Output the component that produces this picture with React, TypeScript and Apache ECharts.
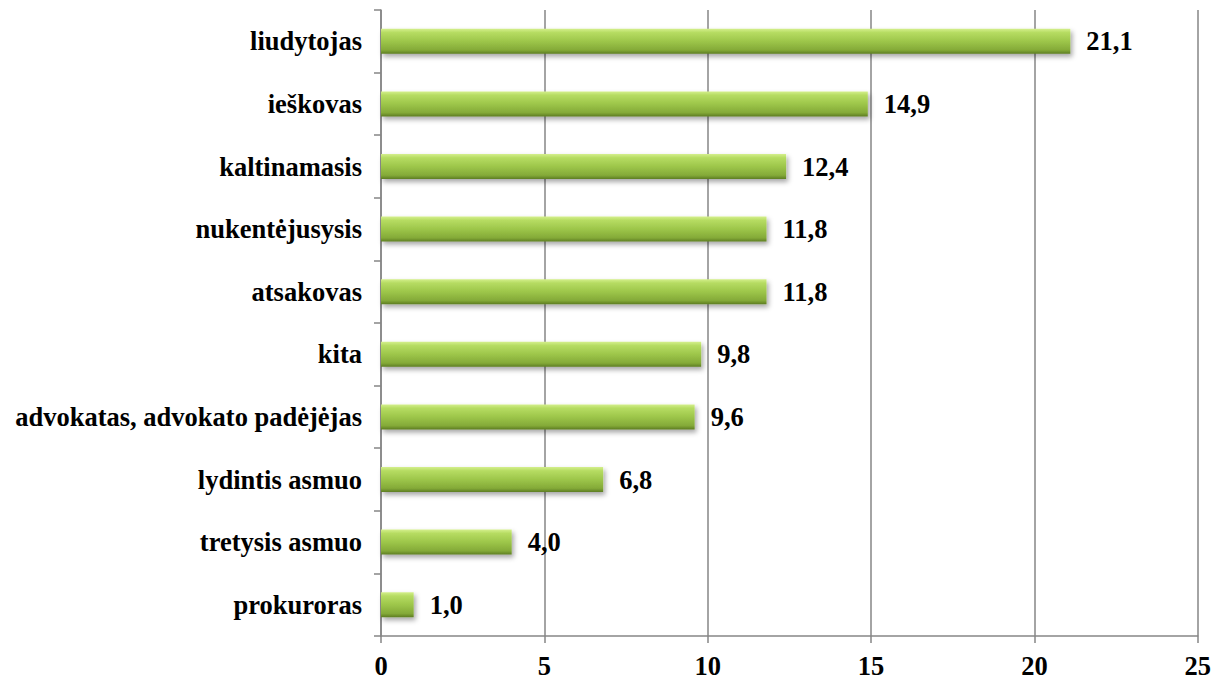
import React, { useEffect, useRef } from "react";
import * as echarts from "echarts";

const categories = [
  "prokuroras",
  "tretysis asmuo",
  "lydintis asmuo",
  "advokatas, advokato padėjėjas",
  "kita",
  "atsakovas",
  "nukentėjusysis",
  "kaltinamasis",
  "ieškovas",
  "liudytojas",
];
const values = [1.0, 4.0, 6.8, 9.6, 9.8, 11.8, 11.8, 12.4, 14.9, 21.1];
const xTicks = { min: 0, max: 25, interval: 5 };

const FONT = "Times New Roman, Liberation Serif, DejaVu Serif, serif";
const GRAY = "#868686";
const FS = 26.5;

export default function App() {
  const ref = useRef<HTMLDivElement>(null);
  useEffect(() => {
    if (!ref.current) return;
    const chart = echarts.init(ref.current, null, { renderer: "svg" });
    chart.setOption({
      animation: false,
      backgroundColor: "#ffffff",
      textStyle: { fontFamily: FONT },
      grid: { left: 381, right: 16, top: 10, bottom: 43, containLabel: false },
      xAxis: {
        type: "value",
        min: xTicks.min,
        max: xTicks.max,
        interval: xTicks.interval,
        axisLine: { show: true, lineStyle: { color: GRAY, width: 1.5 } },
        axisTick: { show: true, length: 7, lineStyle: { color: GRAY, width: 1.5 } },
        splitLine: { show: true, lineStyle: { color: GRAY, width: 1.5 } },
        axisLabel: {
          color: "#000",
          fontFamily: FONT,
          fontWeight: "bold",
          fontSize: FS,
          margin: 16,
        },
      },
      yAxis: {
        type: "category",
        data: categories,
        axisLine: { show: true, lineStyle: { color: GRAY, width: 1.5 } },
        axisTick: { show: true, length: 7, alignWithLabel: false, lineStyle: { color: GRAY, width: 1.5 } },
        splitLine: { show: false },
        axisLabel: {
          color: "#000",
          fontFamily: FONT,
          fontWeight: "bold",
          fontSize: FS,
          margin: 19,
        },
      },
      series: [
        {
          type: "bar",
          data: values,
          barWidth: 25,
          itemStyle: {
            color: new echarts.graphic.LinearGradient(0, 0, 0, 1, [
              { offset: 0, color: "#d4ef8c" },
              { offset: 0.15, color: "#b6dc62" },
              { offset: 0.5, color: "#9dc64a" },
              { offset: 0.85, color: "#84aa38" },
              { offset: 1, color: "#5d7d22" },
            ]),
            shadowColor: "rgba(0,0,0,0.35)",
            shadowBlur: 5,
            shadowOffsetX: 2,
            shadowOffsetY: 3,
          },
          label: {
            show: true,
            position: "right",
            distance: 16,
            color: "#000",
            fontFamily: FONT,
            fontWeight: "bold",
            fontSize: FS,
            formatter: (p: any) => Number(p.value).toFixed(1).replace(".", ","),
          },
        },
      ],
    });
    return () => chart.dispose();
  }, []);
  return (
    <div
      ref={ref}
      style={{ position: "absolute", left: 0, top: 0, width: 1214, height: 679 }}
    />
  );
}
